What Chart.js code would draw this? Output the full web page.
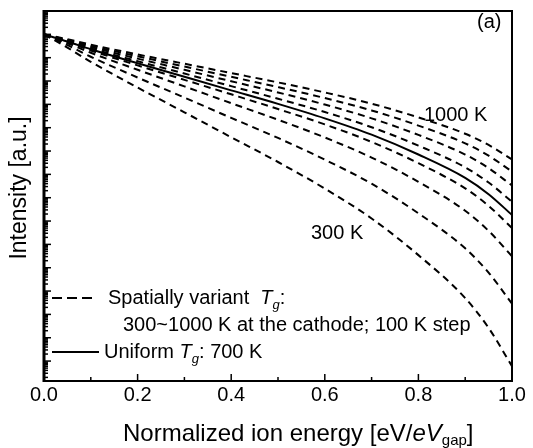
<!DOCTYPE html>
<html>
<head>
<meta charset="utf-8">
<script src="https://cdn.jsdelivr.net/npm/chart.js@4"></script>
<style>
  html, body { margin: 0; padding: 0; background: #fff; }
  #c { display: block; }
</style>
</head>
<body>
<canvas id="c" width="533" height="448"></canvas>
<script>
// Normalized ion energy eV/eV_gap
const energy = [0, 0.05, 0.1, 0.2, 0.3, 0.4, 0.5, 0.6, 0.7, 0.8, 0.9, 0.95, 1.0];

// log10 of intensity (a.u.), spatially variant Tg, 300 ... 1000 K at the cathode
const logI300K  = [0, -0.57, -1.18, -2.28, -3.34, -4.41, -5.47, -6.61, -7.89, -9.46, -11.30, -12.58, -14.22];
const logI400K  = [0, -0.46, -0.96, -1.85, -2.71, -3.58, -4.44, -5.37, -6.40, -7.67, -9.17, -10.21, -11.54];
const logI500K  = [0, -0.38, -0.79, -1.52, -2.23, -2.95, -3.66, -4.42, -5.28, -6.32, -7.56, -8.42, -9.51];
const logI600K  = [0, -0.33, -0.69, -1.33, -1.95, -2.57, -3.20, -3.86, -4.61, -5.52, -6.60, -7.35, -8.30];
const logI700K  = [0, -0.29, -0.60, -1.15, -1.68, -2.22, -2.76, -3.33, -3.98, -4.77, -5.70, -6.35, -7.17];
const logI800K  = [0, -0.26, -0.54, -1.04, -1.52, -2.01, -2.49, -3.01, -3.60, -4.31, -5.15, -5.73, -6.48];
const logI900K  = [0, -0.24, -0.49, -0.94, -1.38, -1.82, -2.26, -2.73, -3.26, -3.91, -4.67, -5.20, -5.88];
const logI1000K = [0, -0.21, -0.44, -0.86, -1.26, -1.66, -2.06, -2.49, -2.97, -3.56, -4.26, -4.74, -5.36];

// log10 of intensity (a.u.), uniform Tg = 700 K
const logIUniform700K = [0, -0.31, -0.64, -1.24, -1.82, -2.40, -2.98, -3.60, -4.30, -5.15, -6.15, -6.85, -7.74];

// Axis ranges and tick labels
const yMin = 1.4e-15;
const yMax = 10;
const xMajorTicks = [0.0, 0.2, 0.4, 0.6, 0.8, 1.0];
const xTickLabels = ['0.0', '0.2', '0.4', '0.6', '0.8', '1.0'];

const FONT = '"Liberation Sans", Arial, Helvetica, sans-serif';

function toPoints(logs) {
  return energy.map((e, i) => ({ x: e, y: Math.pow(10, logs[i]) }));
}

const variantSeries = [logI300K, logI400K, logI500K, logI600K, logI700K, logI800K, logI900K, logI1000K];
const variantNames = ['300 K', '400 K', '500 K', '600 K', '700 K', '800 K', '900 K', '1000 K'];

const datasets = variantSeries.map((s, i) => ({
  label: 'Spatially variant Tg ' + variantNames[i],
  data: toPoints(s),
  borderColor: '#000',
  borderWidth: 2,
  borderDash: [7, 5],
  pointRadius: 0,
  fill: false,
  cubicInterpolationMode: 'monotone'
}));
datasets.push({
  label: 'Uniform Tg 700 K',
  data: toPoints(logIUniform700K),
  borderColor: '#000',
  borderWidth: 2,
  pointRadius: 0,
  fill: false,
  cubicInterpolationMode: 'monotone'
});

// Draws one run of mixed text: [text, style, size, dy]
function drawRuns(ctx, runs, x, y) {
  let cx = x;
  runs.forEach(([text, style, size, dy]) => {
    ctx.font = style + ' ' + size + 'px ' + FONT;
    ctx.fillText(text, cx, y + (dy || 0));
    cx += ctx.measureText(text).width;
  });
  return cx;
}

const decorations = {
  id: 'decorations',
  afterDraw(chart) {
    const { ctx, chartArea: a, scales: { x, y } } = chart;
    ctx.save();
    ctx.strokeStyle = '#000';
    ctx.fillStyle = '#000';
    ctx.setLineDash([]);

    // inward tick marks on the left axis
    ctx.lineWidth = 1.5;
    y.ticks.forEach(t => {
      const py = y.getPixelForValue(t.value);
      if (py < a.top || py > a.bottom) return;
      const len = t.major ? 7 : 4;
      ctx.beginPath();
      ctx.moveTo(a.left, py);
      ctx.lineTo(a.left + len, py);
      ctx.stroke();
    });
    // inward tick marks on the bottom axis
    x.ticks.forEach(t => {
      const px = x.getPixelForValue(t.value);
      const major = xMajorTicks.some(v => Math.abs(v - t.value) < 1e-6);
      const len = major ? 7 : 4;
      ctx.beginPath();
      ctx.moveTo(px, a.bottom);
      ctx.lineTo(px, a.bottom - len);
      ctx.stroke();
    });

    // plot frame
    ctx.lineWidth = 2;
    ctx.strokeRect(a.left, a.top, a.right - a.left, a.bottom - a.top);
    ctx.lineWidth = 3;
    ctx.beginPath();
    ctx.moveTo(a.left, a.top - 1);
    ctx.lineTo(a.left, a.bottom + 1);
    ctx.stroke();

    ctx.textBaseline = 'middle';
    ctx.textAlign = 'left';

    // legend
    ctx.lineWidth = 2;
    ctx.setLineDash([10, 5]);
    ctx.beginPath();
    ctx.moveTo(a.left + 8, 298);
    ctx.lineTo(a.left + 52, 298);
    ctx.stroke();
    ctx.setLineDash([]);
    ctx.beginPath();
    ctx.moveTo(a.left + 8, 352);
    ctx.lineTo(a.left + 55, 352);
    ctx.stroke();

    drawRuns(ctx, [
      ['Spatially variant  ', 'normal', 20],
      ['T', 'italic', 20],
      ['g', 'italic', 13, 7],
      [':', 'normal', 20]
    ], 108, 298);
    drawRuns(ctx, [['300~1000 K at the cathode; 100 K step', 'normal', 20]], 123, 325);
    drawRuns(ctx, [
      ['Uniform ', 'normal', 20],
      ['T', 'italic', 20],
      ['g', 'italic', 13, 7],
      [': 700 K', 'normal', 20]
    ], 104, 352);

    // curve annotations
    drawRuns(ctx, [['(a)', 'normal', 20]], 477, 22);
    drawRuns(ctx, [['1000 K', 'normal', 20]], 424, 115);
    drawRuns(ctx, [['300 K', 'normal', 20]], 311, 233);

    // x-axis title
    drawRuns(ctx, [
      ['Normalized ion energy [eV/', 'normal', 24],
      ['eV', 'italic', 24],
      ['gap', 'normal', 15, 7],
      [']', 'normal', 24]
    ], 123, 434);

    // y-axis title
    ctx.save();
    ctx.translate(20, 188);
    ctx.rotate(-Math.PI / 2);
    ctx.textAlign = 'center';
    ctx.font = '23px ' + FONT;
    ctx.fillText('Intensity [a.u.]', 0, 0);
    ctx.restore();

    ctx.restore();
  }
};

new Chart(document.getElementById('c'), {
  type: 'line',
  data: { datasets },
  options: {
    responsive: false,
    devicePixelRatio: 1,
    animation: false,
    layout: { padding: { left: 36, right: 21, top: 11, bottom: 47 } },
    plugins: { legend: { display: false }, tooltip: { enabled: false } },
    scales: {
      x: {
        type: 'linear',
        min: 0,
        max: 1,
        grid: { display: false },
        border: { display: false },
        ticks: {
          stepSize: 0.1,
          padding: -6,
          color: '#000',
          font: { family: FONT, size: 20 },
          maxRotation: 0,
          autoSkip: false,
          callback: (v) => {
            const i = xMajorTicks.findIndex(m => Math.abs(m - v) < 1e-6);
            return i >= 0 ? xTickLabels[i] : '';
          }
        }
      },
      y: {
        type: 'logarithmic',
        min: yMin,
        max: yMax,
        grid: { display: false },
        border: { display: false },
        ticks: { display: false },
        afterBuildTicks: (scale) => {
          const ticks = [];
          for (let e = -16; e <= 1; e++) {
            for (let m = 1; m <= 9; m++) {
              const v = m * Math.pow(10, e);
              if (v >= yMin && v <= yMax) ticks.push({ value: v, major: m === 1 });
            }
          }
          scale.ticks = ticks;
        }
      }
    }
  },
  plugins: [decorations]
});
</script>
</body>
</html>
